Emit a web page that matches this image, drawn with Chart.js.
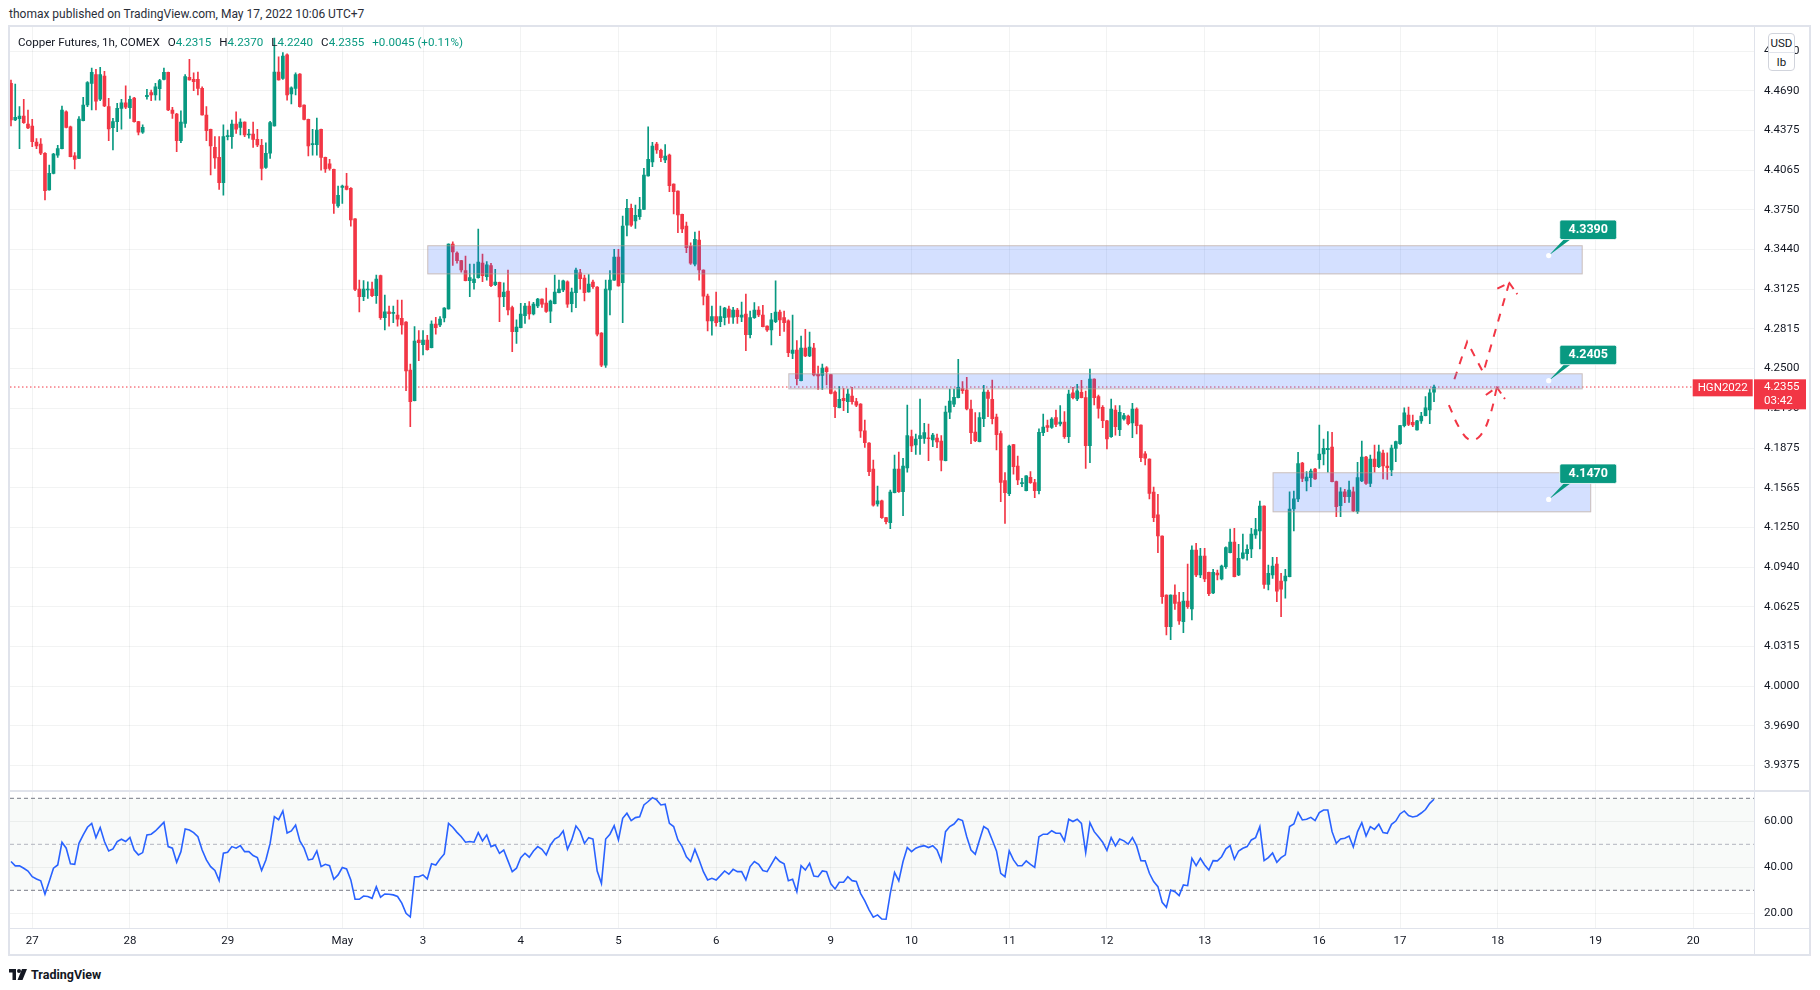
<!DOCTYPE html>
<html>
<head>
<meta charset="utf-8">
<title>Copper Futures, 1h, COMEX</title>
<script src="https://cdn.jsdelivr.net/npm/chart.js@4.4.1/dist/chart.umd.min.js"></script>
<style>
  html, body { margin: 0; padding: 0; background: #fff; }
  body { width: 1820px; height: 990px; position: relative; overflow: hidden; font-family: Roboto, "Open Sans", sans-serif; color: #131722; }
  #published { position: absolute; left: 9px; top: 6px; font-size: 12px; line-height: 16px; color: #2a2e39; white-space: nowrap; }
  #frame { position: absolute; left: 8px; top: 25px; width: 1803px; height: 931px; border: 2px solid #e0e3eb; box-sizing: border-box; }
  #wrap { position: absolute; left: 10px; top: 27px; width: 1799px; height: 927px; }
  #legend { position: absolute; left: 18px; top: 35px; font-size: 11.6px; line-height: 14px; white-space: nowrap; color: #131722; }
  #legend span { margin-right: 8px; }
  #legend b { font-weight: normal; }
  #unit { position: absolute; left: 1768px; top: 33px; width: 27px; height: 38px; border: 1px solid #d1d4dc; border-radius: 4px; background: #fff; box-sizing: border-box; font-size: 11.5px; text-align: center; }
  #unit div { height: 18px; line-height: 18px; }
  #unit div + div { border-top: 1px solid #e0e3eb; }
  #logo { position: absolute; left: 9px; top: 967px; height: 14px; display: flex; align-items: center; font-size: 12.5px; font-weight: 700; color: #131722; }
  #logo svg { margin-right: 4px; }
</style>
</head>
<body>
<div id="published">thomax published on TradingView.com, May 17, 2022 10:06 UTC+7</div>
<div id="frame"></div>
<div id="wrap"><canvas id="chart" width="1799" height="927"></canvas></div>
<div id="legend"></div>
<div id="unit"><div>USD</div><div>lb</div></div>
<div id="logo">
  <svg width="18" height="11" viewBox="0 0 36 22"><path d="M0 0h14v22H7V7H0z" fill="#131722"/><circle cx="20" cy="4" r="4" fill="#131722"/><path d="M26 0h10l-9 22H17z" fill="#131722"/></svg>
  TradingView
</div>
<script>
// hourly bars, index 0 = Apr 26 19:00 (UTC+7)
const opens = [
  4.4745, 4.4457, 4.4467, 4.4488, 4.4425, 4.4410, 4.4284, 4.4268, 4.4195, 4.3906,
  4.4037, 4.4181, 4.4231, 4.4522, 4.4404, 4.4174, 4.4155, 4.4452, 4.4575, 4.4745,
  4.4814, 4.4620, 4.4803, 4.4562, 4.4397, 4.4444, 4.4549, 4.4593, 4.4554, 4.4630,
  4.4444, 4.4362, 4.4641, 4.4672, 4.4654, 4.4704, 4.4777, 4.4832, 4.4536, 4.4504,
  4.4294, 4.4431, 4.4793, 4.4777, 4.4777, 4.4706, 4.4496, 4.4384, 4.4242, 4.4163,
  4.3964, 4.4326, 4.4326, 4.4425, 4.4399, 4.4441, 4.4339, 4.4347, 4.4305, 4.4257,
  4.4084, 4.4195, 4.4410, 4.4835, 4.4785, 4.4969, 4.4662, 4.4706, 4.4819, 4.4575,
  4.4462, 4.4263, 4.4263, 4.4384, 4.4163, 4.4111, 4.4069, 4.3780, 4.3927, 4.3937,
  4.3919, 4.3678, 4.3126, 4.3066, 4.3119, 4.3126, 4.3074, 4.3232, 4.2901, 4.2946,
  4.2935, 4.2922, 4.2896, 4.2867, 4.2489, 4.2248, 4.2725, 4.2688, 4.2725, 4.2665,
  4.2851, 4.2843, 4.2898, 4.2969, 4.3481, 4.3410, 4.3350, 4.3271, 4.3192, 4.3176,
  4.3216, 4.3331, 4.3224, 4.3310, 4.3161, 4.3179, 4.3066, 4.3111, 4.2980, 4.2791,
  4.2822, 4.2917, 4.2993, 4.2930, 4.2993, 4.3048, 4.3016, 4.2953, 4.3011, 4.3098,
  4.3119, 4.3184, 4.3011, 4.3098, 4.3253, 4.3213, 4.3103, 4.3182, 4.3142, 4.2780,
  4.2528, 4.3119, 4.3197, 4.3378, 4.3176, 4.3630, 4.3762, 4.3662, 4.3696, 4.3754,
  4.4016, 4.4126, 4.4268, 4.4218, 4.4142, 4.4181, 4.3953, 4.3898, 4.3714, 4.3622,
  4.3465, 4.3323, 4.3512, 4.3276, 4.3071, 4.2875, 4.2909, 4.2869, 4.2901, 4.2969,
  4.2904, 4.2961, 4.2904, 4.2930, 4.2767, 4.2901, 4.2961, 4.2922, 4.2835, 4.2804,
  4.2869, 4.2945, 4.2901, 4.2877, 4.2620, 4.2646, 4.2405, 4.2662, 4.2599, 4.2662,
  4.2455, 4.2447, 4.2507, 4.2452, 4.2316, 4.2192, 4.2266, 4.2240, 4.2284, 4.2240,
  4.2221, 4.2011, 4.1914, 4.1710, 4.1434, 4.1460, 4.1327, 4.1287, 4.1523, 4.1710,
  4.1531, 4.1718, 4.1964, 4.1899, 4.1948, 4.1951, 4.1956, 4.1938, 4.1954, 4.1930,
  4.1775, 4.2158, 4.2221, 4.2271, 4.2342, 4.2331, 4.2182, 4.2001, 4.1925, 4.2106,
  4.2316, 4.2258, 4.2119, 4.1988, 4.1618, 4.1515, 4.1901, 4.1733, 4.1594, 4.1539,
  4.1644, 4.1602, 4.1539, 4.1996, 4.2051, 4.2038, 4.2114, 4.2064, 4.2080, 4.1964,
  4.2310, 4.2261, 4.2313, 4.2271, 4.1893, 4.2418, 4.2279, 4.2195, 4.2088, 4.1964,
  4.2174, 4.2019, 4.2103, 4.2127, 4.2072, 4.2182, 4.2056, 4.1830, 4.1788, 4.1529,
  4.1348, 4.1182, 4.0718, 4.0469, 4.0718, 4.0663, 4.0508, 4.0671, 4.0608, 4.1072,
  4.0875, 4.1025, 4.0897, 4.0734, 4.0891, 4.0844, 4.0941, 4.1051, 4.1135, 4.0875,
  4.1007, 4.1043, 4.1080, 4.1190, 4.1222, 4.1418, 4.0802, 4.0875, 4.0962, 4.0828,
  4.0828, 4.0862, 4.1395, 4.1474, 4.1757, 4.1615, 4.1642, 4.1710, 4.1783, 4.1828,
  4.1862, 4.1883, 4.1610, 4.1421, 4.1531, 4.1492, 4.1531, 4.1374, 4.1615, 4.1804,
  4.1597, 4.1788, 4.1728, 4.1836, 4.1733, 4.1702, 4.1872, 4.1909, 4.2051, 4.2135,
  4.2077, 4.2017, 4.2088, 4.2130, 4.2174, 4.2315
];
const highs = [
  4.4772, 4.4740, 4.4562, 4.4620, 4.4536, 4.4462, 4.4310, 4.4310, 4.4200, 4.4103,
  4.4195, 4.4257, 4.4567, 4.4530, 4.4410, 4.4200, 4.4483, 4.4635, 4.4759, 4.4866,
  4.4856, 4.4872, 4.4840, 4.4628, 4.4470, 4.4588, 4.4620, 4.4725, 4.4646, 4.4635,
  4.4446, 4.4418, 4.4698, 4.4693, 4.4745, 4.4777, 4.4866, 4.4834, 4.4557, 4.4509,
  4.4530, 4.4814, 4.4934, 4.4829, 4.4835, 4.4719, 4.4562, 4.4386, 4.4326, 4.4326,
  4.4418, 4.4378, 4.4457, 4.4522, 4.4467, 4.4443, 4.4384, 4.4441, 4.4384, 4.4305,
  4.4278, 4.4446, 4.5102, 4.4955, 4.4987, 4.4977, 4.4719, 4.4829, 4.4822, 4.4577,
  4.4464, 4.4384, 4.4473, 4.4386, 4.4165, 4.4147, 4.4071, 4.3937, 4.3945, 4.4037,
  4.3925, 4.3680, 4.3197, 4.3192, 4.3184, 4.3182, 4.3237, 4.3237, 4.3079, 4.2993,
  4.2993, 4.3040, 4.3040, 4.2870, 4.2536, 4.2830, 4.2799, 4.2799, 4.2762, 4.2877,
  4.2904, 4.2909, 4.2980, 4.3483, 4.3497, 4.3420, 4.3352, 4.3386, 4.3323, 4.3323,
  4.3599, 4.3402, 4.3342, 4.3329, 4.3281, 4.3181, 4.3176, 4.3276, 4.2993, 4.2883,
  4.3014, 4.3014, 4.3027, 4.3022, 4.3053, 4.3050, 4.3134, 4.3040, 4.3237, 4.3197,
  4.3197, 4.3190, 4.3134, 4.3292, 4.3281, 4.3237, 4.3240, 4.3197, 4.3145, 4.2783,
  4.3197, 4.3271, 4.3439, 4.3439, 4.3701, 4.3832, 4.3796, 4.3788, 4.3848, 4.4076,
  4.4404, 4.4281, 4.4281, 4.4229, 4.4263, 4.4189, 4.3955, 4.3900, 4.3717, 4.3654,
  4.3491, 4.3575, 4.3583, 4.3278, 4.3087, 4.2993, 4.3103, 4.2993, 4.2982, 4.2993,
  4.2982, 4.2974, 4.3024, 4.3087, 4.2953, 4.3019, 4.2988, 4.2998, 4.2837, 4.2935,
  4.3190, 4.2961, 4.2953, 4.2883, 4.2922, 4.2720, 4.2757, 4.2809, 4.2788, 4.2699,
  4.2520, 4.2536, 4.2515, 4.2455, 4.2326, 4.2358, 4.2345, 4.2339, 4.2353, 4.2266,
  4.2224, 4.2095, 4.1917, 4.1780, 4.1576, 4.1466, 4.1329, 4.1544, 4.1820, 4.1843,
  4.1794, 4.2213, 4.2017, 4.1985, 4.2261, 4.2069, 4.2064, 4.1990, 4.1985, 4.1972,
  4.2206, 4.2339, 4.2339, 4.2573, 4.2397, 4.2431, 4.2253, 4.2153, 4.2153, 4.2368,
  4.2331, 4.2410, 4.2143, 4.2009, 4.1681, 4.1899, 4.1903, 4.1812, 4.1636, 4.1657,
  4.1689, 4.1628, 4.2025, 4.2143, 4.2095, 4.2114, 4.2174, 4.2208, 4.2161, 4.2331,
  4.2353, 4.2376, 4.2408, 4.2324, 4.2497, 4.2420, 4.2292, 4.2208, 4.2093, 4.2261,
  4.2208, 4.2208, 4.2148, 4.2135, 4.2227, 4.2192, 4.2058, 4.1846, 4.1790, 4.1568,
  4.1510, 4.1184, 4.0720, 4.0720, 4.0797, 4.0739, 4.0739, 4.0962, 4.1104, 4.1125,
  4.1085, 4.1085, 4.0899, 4.0920, 4.0915, 4.0954, 4.1098, 4.1237, 4.1243, 4.1117,
  4.1198, 4.1112, 4.1243, 4.1321, 4.1458, 4.1420, 4.0954, 4.1014, 4.1014, 4.0889,
  4.0920, 4.1531, 4.1536, 4.1841, 4.1762, 4.1689, 4.1710, 4.1715, 4.2056, 4.1946,
  4.2004, 4.1998, 4.1615, 4.1563, 4.1550, 4.1615, 4.1568, 4.1762, 4.1930, 4.1809,
  4.1820, 4.1899, 4.1899, 4.1859, 4.1838, 4.1899, 4.1930, 4.2053, 4.2192, 4.2198,
  4.2135, 4.2093, 4.2156, 4.2279, 4.2339, 4.2370
];
const lows = [
  4.4410, 4.4452, 4.4231, 4.4431, 4.4389, 4.4247, 4.4231, 4.4184, 4.3827, 4.3904,
  4.4032, 4.4163, 4.4229, 4.4394, 4.4166, 4.4071, 4.4153, 4.4450, 4.4562, 4.4536,
  4.4536, 4.4609, 4.4562, 4.4294, 4.4221, 4.4365, 4.4384, 4.4546, 4.4470, 4.4439,
  4.4339, 4.4352, 4.4620, 4.4609, 4.4614, 4.4614, 4.4772, 4.4530, 4.4470, 4.4208,
  4.4278, 4.4399, 4.4770, 4.4688, 4.4654, 4.4494, 4.4294, 4.4024, 4.4076, 4.3911,
  4.3866, 4.4300, 4.4234, 4.4352, 4.4339, 4.4326, 4.4313, 4.4242, 4.4247, 4.3985,
  4.4076, 4.4155, 4.4408, 4.4770, 4.4777, 4.4614, 4.4583, 4.4654, 4.4557, 4.4457,
  4.4174, 4.4181, 4.4181, 4.4063, 4.4045, 4.4063, 4.3722, 4.3769, 4.3801, 4.3906,
  4.3622, 4.3113, 4.2946, 4.3035, 4.3053, 4.3066, 4.3014, 4.2888, 4.2804, 4.2835,
  4.2862, 4.2835, 4.2772, 4.2326, 4.2043, 4.2246, 4.2562, 4.2607, 4.2646, 4.2662,
  4.2772, 4.2830, 4.2867, 4.2967, 4.3313, 4.3329, 4.3260, 4.3190, 4.3066, 4.3126,
  4.3211, 4.3184, 4.3197, 4.3145, 4.3153, 4.2869, 4.2987, 4.2922, 4.2633, 4.2699,
  4.2820, 4.2856, 4.2890, 4.2922, 4.2980, 4.2982, 4.2943, 4.2862, 4.3009, 4.3096,
  4.3106, 4.2982, 4.2946, 4.2980, 4.3126, 4.3032, 4.3101, 4.3132, 4.2757, 4.2515,
  4.2510, 4.2922, 4.3195, 4.3148, 4.2862, 4.3544, 4.3620, 4.3604, 4.3675, 4.3752,
  4.4014, 4.4089, 4.4194, 4.4129, 4.4121, 4.3893, 4.3717, 4.3570, 4.3570, 4.3413,
  4.3321, 4.3308, 4.3197, 4.3001, 4.2796, 4.2764, 4.2835, 4.2830, 4.2843, 4.2856,
  4.2856, 4.2856, 4.2869, 4.2641, 4.2741, 4.2896, 4.2909, 4.2828, 4.2793, 4.2686,
  4.2862, 4.2759, 4.2793, 4.2594, 4.2578, 4.2371, 4.2403, 4.2594, 4.2594, 4.2442,
  4.2337, 4.2337, 4.2371, 4.2300, 4.2114, 4.2190, 4.2169, 4.2153, 4.2221, 4.2200,
  4.1959, 4.1880, 4.1657, 4.1418, 4.1418, 4.1321, 4.1277, 4.1240, 4.1521, 4.1526,
  4.1342, 4.1684, 4.1846, 4.1825, 4.1825, 4.1912, 4.1775, 4.1885, 4.1878, 4.1694,
  4.1773, 4.2106, 4.2200, 4.2269, 4.2305, 4.2174, 4.1909, 4.1925, 4.1923, 4.2043,
  4.2122, 4.2064, 4.1859, 4.1453, 4.1282, 4.1500, 4.1670, 4.1586, 4.1571, 4.1537,
  4.1597, 4.1484, 4.1513, 4.1972, 4.2003, 4.2030, 4.2043, 4.2048, 4.1951, 4.1917,
  4.2261, 4.2248, 4.2269, 4.1715, 4.1760, 4.2214, 4.2109, 4.2035, 4.1867, 4.1959,
  4.1977, 4.1972, 4.2095, 4.2056, 4.1956, 4.1985, 4.1767, 4.1741, 4.1474, 4.1295,
  4.1051, 4.0652, 4.0403, 4.0366, 4.0605, 4.0487, 4.0421, 4.0613, 4.0521, 4.0862,
  4.0854, 4.0823, 4.0713, 4.0728, 4.0836, 4.0836, 4.0928, 4.1049, 4.0860, 4.0870,
  4.1001, 4.0993, 4.1012, 4.1164, 4.1080, 4.0770, 4.0757, 4.0849, 4.0666, 4.0547,
  4.0692, 4.0860, 4.1222, 4.1453, 4.1610, 4.1537, 4.1571, 4.1628, 4.1715, 4.1741,
  4.1684, 4.1608, 4.1335, 4.1335, 4.1445, 4.1447, 4.1374, 4.1361, 4.1610, 4.1589,
  4.1571, 4.1684, 4.1720, 4.1631, 4.1628, 4.1657, 4.1767, 4.1904, 4.2040, 4.2051,
  4.2043, 4.2015, 4.2069, 4.2128, 4.2067, 4.2240
];
const closes = [
  4.4457, 4.4478, 4.4488, 4.4436, 4.4394, 4.4286, 4.4252, 4.4195, 4.3901, 4.4037,
  4.4189, 4.4231, 4.4536, 4.4399, 4.4168, 4.4147, 4.4465, 4.4575, 4.4751, 4.4832,
  4.4606, 4.4814, 4.4567, 4.4386, 4.4444, 4.4549, 4.4593, 4.4557, 4.4620, 4.4444,
  4.4362, 4.4399, 4.4651, 4.4654, 4.4719, 4.4767, 4.4832, 4.4536, 4.4509, 4.4294,
  4.4441, 4.4798, 4.4772, 4.4759, 4.4706, 4.4496, 4.4373, 4.4252, 4.4158, 4.3964,
  4.4326, 4.4334, 4.4425, 4.4384, 4.4441, 4.4339, 4.4347, 4.4305, 4.4260, 4.4076,
  4.4195, 4.4436, 4.4835, 4.4772, 4.4961, 4.4654, 4.4711, 4.4814, 4.4562, 4.4462,
  4.4252, 4.4268, 4.4378, 4.4163, 4.4071, 4.4076, 4.3801, 4.3864, 4.3937, 4.3911,
  4.3670, 4.3124, 4.3066, 4.3126, 4.3126, 4.3074, 4.3205, 4.2901, 4.2946, 4.2932,
  4.2940, 4.2890, 4.2843, 4.2481, 4.2240, 4.2717, 4.2704, 4.2725, 4.2649, 4.2851,
  4.2822, 4.2890, 4.2977, 4.3481, 4.3418, 4.3350, 4.3276, 4.3192, 4.3216, 4.3205,
  4.3339, 4.3232, 4.3316, 4.3153, 4.3182, 4.3064, 4.3103, 4.2961, 4.2791, 4.2827,
  4.2930, 4.2993, 4.2930, 4.3008, 4.3048, 4.3008, 4.2951, 4.3032, 4.3103, 4.3126,
  4.3190, 4.3008, 4.3103, 4.3276, 4.3208, 4.3098, 4.3166, 4.3145, 4.2772, 4.2528,
  4.3126, 4.3197, 4.3378, 4.3150, 4.3622, 4.3762, 4.3630, 4.3706, 4.3754, 4.4024,
  4.4147, 4.4252, 4.4221, 4.4160, 4.4173, 4.3940, 4.3893, 4.3709, 4.3599, 4.3452,
  4.3329, 4.3518, 4.3276, 4.3071, 4.2875, 4.2909, 4.2862, 4.2909, 4.2977, 4.2904,
  4.2961, 4.2909, 4.2922, 4.2767, 4.2901, 4.2961, 4.2922, 4.2830, 4.2804, 4.2883,
  4.2945, 4.2883, 4.2862, 4.2625, 4.2646, 4.2421, 4.2662, 4.2599, 4.2670, 4.2450,
  4.2442, 4.2505, 4.2476, 4.2305, 4.2200, 4.2258, 4.2248, 4.2300, 4.2240, 4.2213,
  4.2009, 4.1917, 4.1689, 4.1426, 4.1460, 4.1327, 4.1295, 4.1529, 4.1710, 4.1531,
  4.1733, 4.1972, 4.1891, 4.1946, 4.1972, 4.1996, 4.1948, 4.1977, 4.1922, 4.1780,
  4.2158, 4.2245, 4.2274, 4.2352, 4.2326, 4.2182, 4.1996, 4.1933, 4.2114, 4.2316,
  4.2266, 4.2106, 4.1980, 4.1605, 4.1523, 4.1891, 4.1728, 4.1623, 4.1602, 4.1655,
  4.1602, 4.1539, 4.1998, 4.2040, 4.2038, 4.2103, 4.2061, 4.2080, 4.1964, 4.2300,
  4.2271, 4.2326, 4.2271, 4.1893, 4.2418, 4.2271, 4.2187, 4.2090, 4.1946, 4.2182,
  4.2043, 4.2156, 4.2130, 4.2067, 4.2182, 4.2051, 4.1799, 4.1794, 4.1518, 4.1327,
  4.1182, 4.0705, 4.0469, 4.0718, 4.0652, 4.0513, 4.0671, 4.0626, 4.1072, 4.0875,
  4.1025, 4.0844, 4.0728, 4.0897, 4.0875, 4.0946, 4.1091, 4.1135, 4.0862, 4.1007,
  4.1049, 4.1077, 4.1198, 4.1232, 4.1418, 4.0802, 4.0888, 4.0946, 4.0749, 4.0763,
  4.0867, 4.1395, 4.1474, 4.1752, 4.1636, 4.1647, 4.1694, 4.1631, 4.1828, 4.1872,
  4.1872, 4.1610, 4.1413, 4.1531, 4.1492, 4.1544, 4.1379, 4.1642, 4.1804, 4.1597,
  4.1788, 4.1728, 4.1844, 4.1733, 4.1720, 4.1875, 4.1925, 4.2051, 4.2151, 4.2061,
  4.2056, 4.2088, 4.2127, 4.2192, 4.2310, 4.2355
];
// RSI(14), one value per bar
const rsi = [
  42.5, 40.6, 40.7, 39.6, 38.4, 35.9, 34.9, 34.1, 28.3, 33.8,
  39.6, 41.0, 50.9, 48.3, 41.5, 41.3, 50.4, 54.1, 57.4, 59.1,
  52.9, 57.3, 51.2, 47.1, 48.0, 51.2, 52.2, 51.2, 53.0, 47.5,
  45.4, 46.4, 54.1, 54.4, 55.8, 57.7, 59.6, 49.0, 48.3, 42.2,
  46.8, 56.7, 56.2, 55.1, 53.3, 47.5, 43.2, 40.3, 38.6, 34.2,
  46.1, 46.5, 49.0, 48.3, 49.4, 46.8, 46.8, 45.1, 44.2, 38.6,
  43.2, 50.4, 62.0, 60.7, 64.5, 54.9, 55.8, 58.4, 51.5, 48.3,
  43.2, 43.6, 47.1, 40.3, 41.3, 40.7, 34.8, 36.7, 39.9, 39.3,
  34.5, 26.1, 26.1, 27.5, 27.3, 26.5, 31.6, 27.0, 28.4, 28.3,
  28.0, 27.3, 24.4, 20.0, 18.4, 35.9, 35.9, 36.7, 34.9, 41.5,
  41.0, 43.6, 45.8, 59.1, 57.4, 55.2, 53.3, 50.9, 51.2, 50.9,
  55.1, 51.5, 54.1, 49.0, 49.7, 46.1, 47.5, 42.8, 38.1, 39.6,
  44.2, 46.1, 44.4, 47.1, 49.0, 47.8, 45.4, 49.7, 52.3, 53.3,
  55.8, 47.8, 51.9, 58.0, 55.5, 50.4, 52.9, 52.3, 38.4, 33.0,
  52.3, 54.4, 58.1, 51.9, 61.3, 63.5, 60.3, 61.6, 62.0, 67.1,
  68.6, 70.3, 69.3, 67.1, 67.4, 59.1, 57.7, 51.9, 49.0, 44.6,
  42.5, 47.8, 43.2, 38.1, 34.5, 35.2, 34.5, 36.4, 38.4, 37.0,
  39.1, 38.1, 38.1, 34.5, 40.3, 42.5, 41.3, 38.6, 38.1, 41.3,
  44.4, 42.5, 41.5, 34.2, 34.8, 29.4, 40.7, 38.8, 41.7, 36.2,
  35.9, 38.4, 38.1, 32.8, 30.6, 33.5, 33.5, 35.9, 34.2, 33.8,
  28.7, 25.4, 21.5, 18.3, 19.3, 17.5, 17.4, 28.7, 37.8, 34.1,
  42.5, 48.6, 46.8, 48.3, 49.0, 49.4, 48.6, 49.4, 47.5, 42.8,
  55.5, 57.7, 58.8, 61.0, 60.3, 53.3, 47.5, 45.7, 51.9, 57.7,
  56.5, 51.9, 47.1, 37.4, 35.9, 47.1, 43.2, 40.7, 40.7, 42.8,
  41.3, 40.0, 53.3, 54.4, 54.4, 55.9, 54.8, 54.8, 51.5, 60.9,
  59.9, 60.9, 59.1, 46.4, 59.4, 55.5, 53.3, 50.9, 47.3, 52.9,
  49.3, 52.3, 51.5, 50.1, 52.9, 49.3, 42.9, 42.8, 37.4, 33.8,
  31.6, 24.8, 22.6, 30.1, 29.4, 27.7, 32.3, 32.0, 43.9, 40.7,
  43.9, 41.0, 38.8, 42.9, 42.8, 44.6, 48.0, 49.4, 43.5, 47.1,
  48.3, 49.0, 51.9, 52.9, 57.7, 42.9, 44.2, 46.2, 42.2, 44.2,
  45.4, 57.7, 58.8, 63.9, 60.6, 60.9, 61.7, 60.3, 63.8, 64.9,
  64.9, 55.5, 50.4, 52.3, 52.6, 53.6, 48.8, 55.5, 59.4, 53.6,
  57.7, 56.5, 58.7, 55.1, 54.8, 58.7, 60.1, 63.2, 64.5, 62.5,
  61.9, 62.3, 63.6, 65.1, 67.8, 69.6
];

// time axis: bar index of the first bar of each day and its label
const dayTickBars = [5, 28, 51, 78, 97, 120, 143, 166, 193, 212, 235, 258, 281, 308, 327, 350, 373, 396];
const dayTickLabels = ['27', '28', '29', 'May', '3', '4', '5', '6', '9', '10', '11', '12', '13', '16', '17', '18', '19', '20'];

const priceTicks = [3.9375, 3.96875, 4.0, 4.03125, 4.0625, 4.09375, 4.125, 4.15625, 4.1875, 4.21875,
  4.25, 4.28125, 4.3125, 4.34375, 4.375, 4.40625, 4.4375, 4.46875, 4.5];
const priceTickLabels = ['3.9375', '3.9690', '4.0000', '4.0315', '4.0625', '4.0940', '4.1250', '4.1565', '4.1875', '4.2190',
  '4.2500', '4.2815', '4.3125', '4.3440', '4.3750', '4.4065', '4.4375', '4.4690', '4.5000'];
const rsiTicks = [20, 40, 60];
const rsiTickLabels = ['20.00', '40.00', '60.00'];
const rsiLevels = [70, 50, 30];

// drawn zones (bar range, price range)
const zoneFromBar = [98, 183, 297];
const zoneToBar = [370, 370, 372];
const zoneHigh = [4.3471, 4.2463, 4.1684];
const zoneLow = [4.3242, 4.2337, 4.1369];

// price callouts
const calloutBars = [362, 362, 362];
const calloutPrices = [4.3390, 4.2405, 4.1470];

// projected paths
const pathUpBars = [339.8, 342.8, 346.6, 352.7];
const pathUpPrices = [4.2416, 4.2712, 4.2468, 4.3176];
const arrowUpBars = [349.9, 352.7, 354.6];
const arrowUpPrices = [4.3129, 4.3176, 4.3085];
const pathDipBars = [338.5, 341, 343.5, 346, 348.2, 349.8];
const pathDipPrices = [4.2213, 4.2032, 4.1938, 4.1977, 4.2135, 4.2353];
const arrowDipBars = [347.2, 349.8, 351.7];
const arrowDipPrices = [4.2292, 4.2353, 4.2261];

const UP = '#089981';
const DOWN = '#f23645';
const GRID = 'rgba(42, 46, 57, 0.06)';
const LINE = '#e0e3eb';
const TEXT = '#131722';

const xMin = -0.235, xMax = 410.33;
const last = closes.length - 1;
const bars = closes.map((c, i) => i);
const candleColor = i => closes[i] >= opens[i] ? UP : DOWN;
const levelLine = v => [{ x: xMin, y: v }, { x: xMax, y: v }];
const pts = (bs, vs) => bs.map((b, k) => ({ x: b, y: vs[k] }));

// Legend
const fmt = v => v.toFixed(4);
const chg = closes[last] - closes[last - 1];
const pct = chg / closes[last - 1] * 100;
const vc = candleColor(last);
const sign = chg >= 0 ? '+' : '';
document.getElementById('legend').innerHTML =
  '<span>Copper Futures, 1h, COMEX</span>' +
  ['O', 'H', 'L', 'C'].map((k, j) =>
    `<span>${k}<b style="color:${vc}">${fmt([opens, highs, lows, closes][j][last])}</b></span>`).join('') +
  `<span style="color:${vc}">${sign}${fmt(chg)} (${sign}${pct.toFixed(2)}%)</span>`;

Chart.defaults.font.family = 'Roboto, "Open Sans", sans-serif';
Chart.defaults.color = TEXT;

function roundRect(ctx, x, y, w, h, r) {
  ctx.beginPath();
  ctx.moveTo(x + r, y);
  ctx.lineTo(x + w - r, y);
  ctx.quadraticCurveTo(x + w, y, x + w, y + r);
  ctx.lineTo(x + w, y + h - r);
  ctx.quadraticCurveTo(x + w, y + h, x + w - r, y + h);
  ctx.lineTo(x + r, y + h);
  ctx.quadraticCurveTo(x, y + h, x, y + h - r);
  ctx.lineTo(x, y + r);
  ctx.quadraticCurveTo(x, y, x + r, y);
  ctx.closePath();
}

// no label padding around the axes: the panes fill the canvas edge to edge
const noPad = s => { s.paddingTop = 0; s.paddingBottom = 0; s.paddingLeft = 0; s.paddingRight = 0; };

// Zones, callouts, pane separators and last price labels
const overlays = {
  id: 'overlays',
  afterDatasetsDraw(chart) {
    const { ctx, scales: { x, y } } = chart;
    ctx.save();
    for (let k = 0; k < zoneFromBar.length; k++) {
      const l = x.getPixelForValue(zoneFromBar[k]);
      const r = x.getPixelForValue(zoneToBar[k]);
      const t = y.getPixelForValue(zoneHigh[k]);
      const b = y.getPixelForValue(zoneLow[k]);
      ctx.fillStyle = 'rgba(41, 98, 255, 0.2)';
      ctx.fillRect(l, t, r - l, b - t);
      ctx.strokeStyle = 'rgba(200, 165, 130, 0.55)';
      ctx.lineWidth = 1;
      ctx.strokeRect(l + 0.5, t + 0.5, r - l - 1, b - t - 1);
    }
    ctx.restore();
  },
  afterDraw(chart) {
    const { ctx, scales: { x, y, rsi: rs } } = chart;
    ctx.save();
    // separators
    ctx.fillStyle = LINE;
    ctx.fillRect(0, Math.round(rs.top) - 1, chart.width, 2);
    ctx.fillRect(0, Math.round(x.top), chart.width, 1);
    ctx.fillRect(Math.round(x.right), 0, 1, chart.height);

    // callouts
    ctx.font = 'bold 12.5px Roboto';
    ctx.textAlign = 'center';
    ctx.textBaseline = 'middle';
    for (let k = 0; k < calloutBars.length; k++) {
      const ax = x.getPixelForValue(calloutBars[k]);
      const ay = y.getPixelForValue(calloutPrices[k]);
      ctx.fillStyle = UP;
      ctx.beginPath();
      ctx.moveTo(ax, ay);
      ctx.lineTo(ax + 16, ay - 17);
      ctx.lineTo(ax + 23, ay - 17);
      ctx.closePath();
      ctx.fill();
      roundRect(ctx, ax + 11, ay - 35.5, 57, 19.5, 2);
      ctx.fill();
      ctx.strokeStyle = 'rgba(255,255,255,0.8)';
      ctx.lineWidth = 1;
      ctx.stroke();
      ctx.fillStyle = '#fff';
      ctx.fillText(fmt(calloutPrices[k]), ax + 39.5, ay - 25.5);
      ctx.beginPath();
      ctx.arc(ax, ay, 2.6, 0, Math.PI * 2);
      ctx.fillStyle = '#fff';
      ctx.fill();
    }

    // last price labels
    const py = y.getPixelForValue(closes[last]);
    ctx.fillStyle = DOWN;
    ctx.fillRect(x.right - 61.3, py - 7.7, 60, 17);
    ctx.fillRect(x.right, py - 7.7, 52, 30);
    ctx.fillStyle = '#fff';
    ctx.font = '11.5px Roboto';
    ctx.textAlign = 'center';
    ctx.fillText('HGN2022', x.right - 31.3, py + 0.8);
    ctx.textAlign = 'left';
    ctx.fillText(fmt(closes[last]), x.right + 10, py + 0.5);
    ctx.fillText('03:42', x.right + 10, py + 14.5);
    ctx.restore();
  }
};

const axisFont = { size: 11.5 };

new Chart(document.getElementById('chart'), {
  type: 'bar',
  data: {
    datasets: [
      { type: 'line', data: levelLine(rsiLevels[0]), yAxisID: 'rsi', borderColor: '#787b86', borderWidth: 1,
        borderDash: [4, 3], pointRadius: 0, fill: false, order: 20 },
      { type: 'line', data: levelLine(rsiLevels[2]), yAxisID: 'rsi', borderColor: '#787b86', borderWidth: 1,
        borderDash: [4, 3], pointRadius: 0, fill: '-1', backgroundColor: 'rgba(60, 110, 95, 0.035)', order: 19 },
      { type: 'line', data: levelLine(rsiLevels[1]), yAxisID: 'rsi', borderColor: '#b2b5be', borderWidth: 1,
        borderDash: [4, 3], pointRadius: 0, fill: false, order: 18 },
      { type: 'line', data: rsi.map((v, i) => ({ x: i, y: v })), yAxisID: 'rsi', borderColor: '#2962ff',
        borderWidth: 1.6, pointRadius: 0, fill: false, order: 1 },
      { type: 'line', data: levelLine(closes[last]), yAxisID: 'y', borderColor: DOWN, borderWidth: 1,
        borderDash: [1.5, 2.5], pointRadius: 0, fill: false, order: 8 },
      { type: 'bar', data: bars.map(i => ({ x: i, y: [lows[i], highs[i]] })), yAxisID: 'y',
        backgroundColor: ctx => candleColor(ctx.dataIndex), barThickness: 1, grouped: false, order: 6 },
      { type: 'bar', data: bars.map(i => ({ x: i, y: [opens[i], closes[i]] })), yAxisID: 'y',
        backgroundColor: ctx => candleColor(ctx.dataIndex), barThickness: 3, minBarLength: 1, grouped: false, order: 5 },
      { type: 'line', data: pts(pathUpBars, pathUpPrices), yAxisID: 'y', borderColor: DOWN, borderWidth: 2,
        borderDash: [8, 8], pointRadius: 0, fill: false, order: 0 },
      { type: 'line', data: pts(arrowUpBars, arrowUpPrices), yAxisID: 'y', borderColor: DOWN, borderWidth: 2,
        borderDash: [8, 5], pointRadius: 0, fill: false, order: 0 },
      { type: 'line', data: pts(pathDipBars, pathDipPrices), yAxisID: 'y', borderColor: DOWN, borderWidth: 2,
        borderDash: [8, 8], pointRadius: 0, fill: false, tension: 0.4, order: 0 },
      { type: 'line', data: pts(arrowDipBars, arrowDipPrices), yAxisID: 'y', borderColor: DOWN, borderWidth: 2,
        borderDash: [8, 5], pointRadius: 0, fill: false, order: 0 }
    ]
  },
  options: {
    responsive: false,
    animation: false,
    events: [],
    layout: { padding: 0, autoPadding: false },
    plugins: { legend: { display: false }, tooltip: { enabled: false } },
    scales: {
      x: {
        type: 'linear', min: xMin, max: xMax, offset: false,
        afterBuildTicks: s => { s.ticks = dayTickBars.map(v => ({ value: v })); },
        afterFit: s => { s.height = 26; noPad(s); },
        ticks: { callback: (v, i) => dayTickLabels[i], autoSkip: false, maxRotation: 0, padding: 6, font: axisFont, color: TEXT },
        grid: { color: GRID, drawTicks: false, offset: false },
        border: { display: false }
      },
      y: {
        type: 'linear', position: 'right', stack: 'panes', stackWeight: 763.5,
        min: 3.9179, max: 4.5189,
        afterBuildTicks: s => { s.ticks = priceTicks.map(v => ({ value: v })); },
        afterFit: s => { s.width = 55; noPad(s); },
        ticks: { callback: (v, i) => priceTickLabels[i], autoSkip: false, padding: 10, font: axisFont, color: TEXT },
        grid: { color: GRID, drawTicks: false },
        border: { display: false }
      },
      rsi: {
        type: 'linear', position: 'right', stack: 'panes', stackWeight: 137.5,
        min: 13.61, max: 73.39,
        afterBuildTicks: s => { s.ticks = rsiTicks.map(v => ({ value: v })); },
        afterFit: s => { s.width = 55; noPad(s); },
        ticks: { callback: (v, i) => rsiTickLabels[i], autoSkip: false, padding: 10, font: axisFont, color: TEXT },
        grid: { color: GRID, drawTicks: false },
        border: { display: false }
      }
    }
  },
  plugins: [overlays]
});
</script>
</body>
</html>
